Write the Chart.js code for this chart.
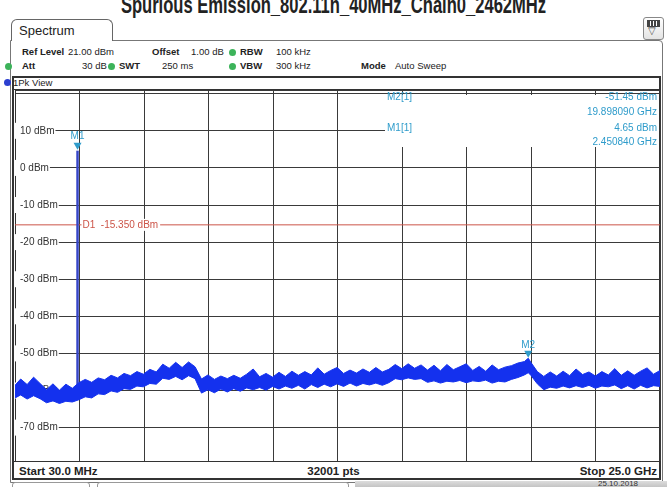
<!DOCTYPE html>
<html>
<head>
<meta charset="utf-8">
<script src="https://cdn.jsdelivr.net/npm/chart.js@4.4.1/dist/chart.umd.min.js"></script>
<style>
  body { margin: 0; width: 667px; height: 487px; overflow: hidden; background: #fff; position: relative;
         font-family: "Liberation Sans", Arial, sans-serif; color: #222; }
  .a { position: absolute; white-space: nowrap; }
  .b { font-weight: bold; }
  .dot { position: absolute; width: 7px; height: 7px; border-radius: 50%; background: #3cb35a; }
  #chart { position: absolute; left: 0; top: 0; }
</style>
</head>
<body>

<div class="a b" id="title" style="left:0;top:-7px;width:667px;text-align:center;font-size:24px;line-height:24px;transform:scaleX(0.69);">Spurious Emission_802.11n_40MHz_Chain0_2462MHz</div>

<!-- panel frame and tab -->
<div class="a" style="left:10px;top:40px;width:651px;height:441px;border:1px solid #777;border-radius:0 4px 0 0;"></div>
<div class="a" style="left:11px;top:19px;width:102px;height:22px;border:1px solid #666;border-bottom:none;border-radius:6px 6px 0 0;background:#fff;font-size:13px;line-height:22px;padding-left:7px;box-sizing:border-box;">Spectrum</div>
<div class="a" style="left:643px;top:17px;width:19px;height:21px;border:1px solid #888;border-radius:3px;background:linear-gradient(#fff,#e4e4e4);"></div>
<div class="a" style="left:647px;top:20px;width:11px;height:5px;border:1px solid #444;background:repeating-linear-gradient(90deg,#444 0 2px,#fff 2px 3px);"></div>
<div class="a" style="left:648px;top:25px;font-size:10px;color:#444;">&#9661;</div>

<!-- setting rows -->
<div class="a" style="top:46px;font-size:9.5px;line-height:12px;">
  <span class="a b" style="left:22px;">Ref Level</span>
  <span class="a" style="left:68px;">21.00 dBm</span>
  <span class="a b" style="left:152px;">Offset</span>
  <span class="a" style="left:191px;">1.00 dB</span>
  <span class="a b" style="left:240px;">RBW</span>
  <span class="a" style="left:276px;">100 kHz</span>
</div>
<div class="dot" style="left:229px;top:49px;"></div>
<div class="a" style="top:60px;font-size:9.5px;line-height:12px;">
  <span class="a b" style="left:22px;">Att</span>
  <span class="a" style="left:82px;">30 dB</span>
  <span class="a b" style="left:119px;">SWT</span>
  <span class="a" style="left:162px;">250 ms</span>
  <span class="a b" style="left:240px;">VBW</span>
  <span class="a" style="left:276px;">300 kHz</span>
  <span class="a b" style="left:361px;">Mode</span>
  <span class="a" style="left:395px;">Auto Sweep</span>
</div>
<div class="dot" style="left:5px;top:63px;"></div>
<div class="dot" style="left:108px;top:63px;"></div>
<div class="dot" style="left:229px;top:63px;"></div>

<!-- plot box -->
<div class="a" style="left:12px;top:76px;width:645px;height:400px;border:2px solid #333;"></div>
<div class="a" style="left:14px;top:89px;width:645px;height:1px;background:#333;"></div>
<div class="dot" style="left:4px;top:79px;background:#2c3fd0;"></div>
<div class="a" style="left:13px;top:77px;font-size:9.5px;line-height:12px;">1Pk View</div>

<!-- bottom row -->
<div class="a" style="left:14px;top:461px;width:645px;height:1px;background:#333;"></div>
<div class="a b" style="left:19px;top:464px;font-size:11.5px;line-height:14px;">Start 30.0 MHz</div>
<div class="a b" style="left:0;top:464px;width:667px;text-align:center;font-size:11.5px;line-height:14px;">32001 pts</div>
<div class="a b" style="right:10px;top:464px;font-size:11.5px;line-height:14px;">Stop 25.0 GHz</div>

<!-- bottom tab strip -->
<div class="a" style="left:12px;top:482px;width:76px;height:10px;border:1px solid #999;border-radius:3px;"></div>
<div class="a" style="left:97px;top:482px;width:250px;height:10px;border:1px solid #999;border-radius:3px;"></div>
<div class="a" style="left:355px;top:481px;width:312px;height:8px;background:linear-gradient(#ddd,#bbb);"></div>
<div class="a" style="left:598px;top:479px;font-size:8px;color:#333;">25.10.2018</div>

<canvas id="chart" width="667" height="487"></canvas>

<script>

// sweep: 30 MHz .. 25 GHz, levels in dBm

const freqGHz = [
  0.03, 0.25, 0.5, 0.75, 1.0, 1.25, 1.5, 1.75, 2.0, 2.25,
  2.5, 2.75, 3.0, 3.25, 3.5, 3.75, 4.0, 4.25, 4.5, 4.75,
  5.0, 5.25, 5.5, 5.75, 6.0, 6.25, 6.5, 6.75, 7.0, 7.25,
  7.5, 7.75, 8.0, 8.25, 8.5, 8.75, 9.0, 9.25, 9.5, 9.75,
  10.0, 10.25, 10.5, 10.75, 11.0, 11.25, 11.5, 11.75, 12.0, 12.25,
  12.5, 12.75, 13.0, 13.25, 13.5, 13.75, 14.0, 14.25, 14.5, 14.75,
  15.0, 15.25, 15.5, 15.75, 16.0, 16.25, 16.5, 16.75, 17.0, 17.25,
  17.5, 17.75, 18.0, 18.25, 18.5, 18.75, 19.0, 19.25, 19.5, 19.75,
  19.9, 20.0, 20.25, 20.5, 20.75, 21.0, 21.25, 21.5, 21.75, 22.0,
  22.25, 22.5, 22.75, 23.0, 23.25, 23.5, 23.75, 24.0, 24.25, 24.5,
  24.75, 25.0
];

// upper edge of the noise trace
const noiseTop = [
  -58.6, -56.9, -58.4, -56.4, -58.1, -59.8, -58.2, -59.9, -58.3, -59.4,
  -57.9, -57.0, -57.8, -56.6, -57.1, -55.9, -56.6, -55.4, -56.0, -54.9,
  -55.6, -54.3, -55.0, -52.9, -54.0, -52.4, -53.8, -52.3, -53.6, -56.9,
  -55.8, -57.0, -56.1, -56.8, -55.9, -56.7, -55.6, -54.2, -56.3, -55.4,
  -56.4, -55.1, -56.2, -54.8, -55.9, -54.9, -55.8, -53.9, -55.6, -54.6,
  -53.8, -55.4, -54.5, -55.3, -54.2, -55.1, -53.8, -55.0, -54.3, -53.0,
  -54.1, -52.8, -54.0, -53.1, -54.5, -53.2, -54.7, -53.0, -54.4, -53.6,
  -52.8, -54.6, -53.5, -54.8, -53.1, -54.4, -53.7, -53.3, -52.6, -52.2,
  -51.3, -52.4, -54.9, -56.2, -55.0, -56.1, -54.8, -56.0, -54.2, -55.7,
  -55.0, -56.1, -54.9, -55.8, -54.1, -55.9, -54.7, -55.9, -54.8, -53.9,
  -55.6, -54.6
];

// lower edge of the noise trace
const noiseBottom = [
  -62.0, -61.2, -62.3, -61.4, -62.2, -63.3, -62.8, -63.5, -62.9, -63.1,
  -62.5, -61.7, -62.0, -60.9, -61.1, -60.1, -60.5, -59.5, -59.7, -58.8,
  -59.0, -58.1, -58.3, -56.7, -57.0, -56.2, -57.1, -56.0, -56.8, -60.7,
  -59.8, -60.6, -59.6, -60.4, -59.5, -60.2, -59.3, -59.8, -59.2, -59.9,
  -58.9, -59.6, -58.8, -59.4, -58.6, -59.6, -58.4, -59.2, -58.3, -59.0,
  -58.2, -58.9, -58.0, -58.8, -58.1, -58.5, -58.0, -58.6, -57.9, -56.8,
  -57.1, -56.6, -57.0, -56.8, -57.8, -57.4, -58.0, -57.5, -57.7, -57.3,
  -57.9, -57.4, -57.6, -57.2, -58.0, -57.5, -57.7, -57.0, -56.5, -55.8,
  -55.2, -55.9, -58.2, -59.8, -59.1, -59.4, -58.8, -59.3, -58.7, -59.2,
  -58.6, -59.4, -58.8, -59.0, -58.5, -59.5, -58.7, -59.6, -58.6, -59.3,
  -58.7, -58.9
];

// carrier line (M1)
const carrierFreq = 2.45084;
const carrierLevel = 4.65;
const carrierBase = -62.5;

const markerNames = ["M1", "M2"];
const markerFreq = [2.45084, 19.89809];
const markerLevel = [4.65, -51.45];
const markerFreqText = ["2.450840 GHz", "19.898090 GHz"];
const markerLevelText = ["4.65 dBm", "-51.45 dBm"];

const displayLine = -15.35;
const displayLineText = "D1  -15.350 dBm";

const xGrid = [0.03, 2.527, 5.024, 7.521, 10.018, 12.515, 15.012, 17.509, 20.006, 22.503, 25.0];
const yLabels = [10, 0, -10, -20, -30, -40, -50, -60, -70];
const yGrid = [21, 20, 10, 0, -10, -20, -30, -40, -50, -60, -70, -79];

const traceBlue = "#1431ee";
const markerCyan = "#2f9ccb";
const lineRed = "#cc5448";

const overlay = {
  id: "overlay",
  afterDatasetsDraw(chart) {
    const ctx = chart.ctx;
    const x = chart.scales.x;
    const y = chart.scales.y;
    ctx.save();
    ctx.font = "10px 'Liberation Sans', Arial, sans-serif";
    ctx.textBaseline = "middle";

    // display line label
    const dy = y.getPixelForValue(displayLine);
    const lx = x.getPixelForValue(carrierFreq) + 5;
    const w = ctx.measureText(displayLineText).width;
    ctx.fillStyle = "#fff";
    ctx.fillRect(lx - 1, dy - 6, w + 3, 12);
    ctx.fillStyle = lineRed;
    ctx.fillText(displayLineText, lx, dy);

    // marker triangles and names
    markerNames.forEach((name, i) => {
      const px = x.getPixelForValue(markerFreq[i]);
      const py = y.getPixelForValue(markerLevel[i]);
      ctx.fillStyle = markerCyan;
      ctx.beginPath();
      ctx.moveTo(px, py - 1);
      ctx.lineTo(px - 4, py - 8);
      ctx.lineTo(px + 4, py - 8);
      ctx.closePath();
      ctx.fill();
      ctx.textAlign = "center";
      ctx.fillText(name, px, py - 14);
    });

    // marker table
    const right = chart.chartArea.right;
    const tx = 385;
    ctx.fillStyle = "#fff";
    ctx.fillRect(tx, 95, right - tx - 1, 52);
    const rows = [[1, 96, 111], [0, 127, 141]];
    rows.forEach(([i, y1, y2]) => {
      ctx.fillStyle = markerCyan;
      ctx.textAlign = "left";
      ctx.fillText(markerNames[i] + "[1]", tx + 2, y1 + 1);
      ctx.textAlign = "right";
      ctx.fillText(markerLevelText[i], right - 3, y1 + 1);
      ctx.fillText(markerFreqText[i], right - 3, y2 + 1);
    });
    ctx.restore();
  }
};

new Chart(document.getElementById("chart"), {
  type: "line",
  data: {
    datasets: [
      {
        data: freqGHz.map((f, i) => ({ x: f, y: noiseTop[i] })),
        borderColor: traceBlue,
        backgroundColor: traceBlue,
        borderWidth: 1,
        fill: "+1",
        pointRadius: 0,
        tension: 0
      },
      {
        data: freqGHz.map((f, i) => ({ x: f, y: noiseBottom[i] })),
        borderColor: traceBlue,
        borderWidth: 1,
        fill: false,
        pointRadius: 0
      },
      {
        data: [{ x: carrierFreq, y: carrierBase }, { x: carrierFreq, y: carrierLevel }],
        borderColor: "#3545c8",
        borderWidth: 2.5,
        fill: false,
        pointRadius: 0
      },
      {
        data: [{ x: 0.03, y: displayLine }, { x: 25.0, y: displayLine }],
        borderColor: lineRed,
        borderWidth: 1,
        fill: false,
        pointRadius: 0
      }
    ]
  },
  options: {
    responsive: false,
    animation: false,
    devicePixelRatio: 1,
    layout: { padding: { left: 15, right: 7, top: 90, bottom: 26 } },
    plugins: { legend: { display: false }, tooltip: { enabled: false } },
    scales: {
      x: {
        type: "linear",
        min: 0.03,
        max: 25.0,
        afterFit: s => { s.height = 0; },
        afterBuildTicks: s => { s.ticks = xGrid.map(v => ({ value: v })); },
        ticks: { display: false },
        grid: { color: "#3a3a3a", lineWidth: 1, drawTicks: false },
        border: { color: "#333", width: 1 }
      },
      y: {
        min: -79,
        max: 21,
        afterFit: s => { s.width = 0; },
        afterBuildTicks: s => { s.ticks = yGrid.map(v => ({ value: v })); },
        ticks: {
          mirror: true,
          padding: 5,
          color: "#333",
          font: { family: "'Liberation Sans', Arial, sans-serif", size: 10 },
          callback: v => yLabels.includes(v) ? v + " dBm" : "",
          showLabelBackdrop: true,
          backdropColor: c => yLabels.includes(c.tick.value) ? "#fff" : "rgba(0,0,0,0)",
          backdropPadding: { left: 6, right: 1, top: 2, bottom: 2 }
        },
        grid: { color: "#3a3a3a", lineWidth: 1, drawTicks: false },
        border: { color: "#333", width: 1 }
      }
    }
  },
  plugins: [overlay]
});

</script>
</body>
</html>
